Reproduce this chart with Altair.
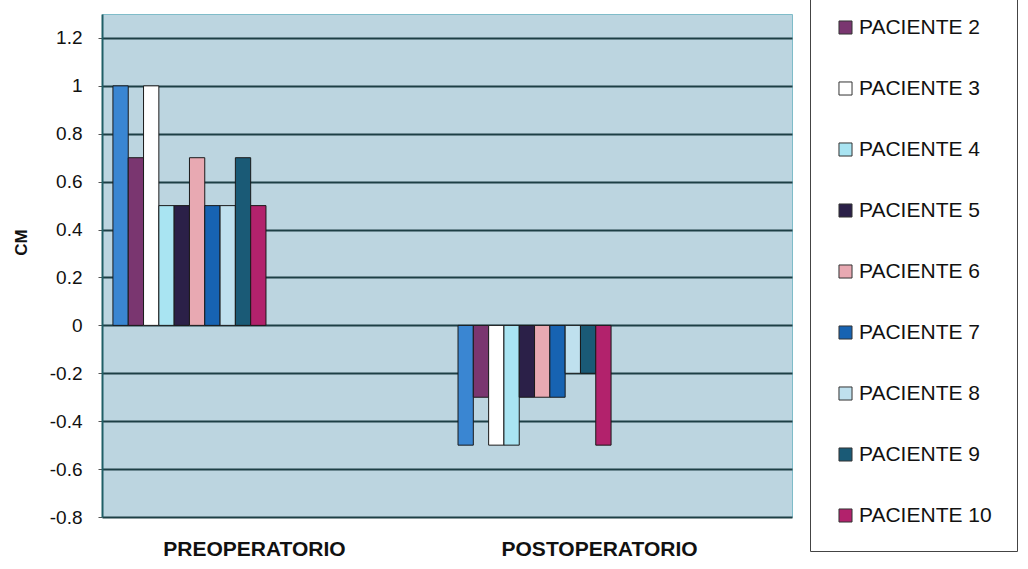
import altair as alt
import pandas as pd

etapas = ["PREOPERATORIO", "POSTOPERATORIO"]
pacientes = ["PACIENTE 1", "PACIENTE 2", "PACIENTE 3", "PACIENTE 4", "PACIENTE 5",
             "PACIENTE 6", "PACIENTE 7", "PACIENTE 8", "PACIENTE 9", "PACIENTE 10"]
preoperatorio = [1.0, 0.7, 1.0, 0.5, 0.5, 0.7, 0.5, 0.5, 0.7, 0.5]
postoperatorio = [-0.5, -0.3, -0.5, -0.5, -0.3, -0.3, -0.3, -0.2, -0.2, -0.5]
colores = ["#3a86d2", "#7a3670", "#ffffff", "#a9e4f2", "#2b2048",
           "#e8a9b2", "#1763b2", "#bfe0ee", "#1a5a76", "#b2226c"]
y_ticks = [-0.8, -0.6, -0.4, -0.2, 0, 0.2, 0.4, 0.6, 0.8, 1, 1.2]

rows = []
for etapa, vals in zip(etapas, [preoperatorio, postoperatorio]):
    for p, v in zip(pacientes, vals):
        rows.append({"etapa": etapa, "paciente": p, "valor": v})
df = pd.DataFrame(rows)

FONT = "Liberation Sans"

chart = alt.Chart(df).mark_bar(stroke="#1a1a1a", strokeWidth=1).encode(
    x=alt.X("etapa:N", sort=etapas,
            scale=alt.Scale(paddingInner=0.5565, paddingOuter=0.278, align=0.057),
            axis=alt.Axis(title=None, labelAngle=0, labelFont=FONT, labelFontSize=21,
                          labelFontWeight="bold", labelColor="#111", labelPadding=21,
                          labelOffset=65, labelLimit=400, domain=False, ticks=False,
                          grid=False)),
    xOffset=alt.XOffset("paciente:N", sort=pacientes,
                        scale=alt.Scale(domain=pacientes, paddingInner=0, paddingOuter=0)),
    y=alt.Y("valor:Q",
            scale=alt.Scale(domain=[-0.8, 1.3], nice=False, zero=False),
            axis=alt.Axis(values=y_ticks, title="CM", titleFont=FONT, titleFontSize=17,
                          titleFontWeight="bold", titleColor="#111", titleAngle=270,
                          titleX=-81, titleY=228, titleAlign="center", titleBaseline="middle",
                          labelFont=FONT, labelFontSize=19, labelColor="#111",
                          labelPadding=16, tickSize=4, tickColor="#555", tickWidth=1,
                          domainColor="#1f5f66", domainWidth=2,
                          gridColor="#1d3f45", gridWidth=1.8,
                          labelExpr="'' + datum.value")),
    color=alt.Color("paciente:N",
                    scale=alt.Scale(domain=pacientes, range=colores),
                    legend=alt.Legend(values=pacientes[1:], title=None, orient="none",
                                      legendX=708, legendY=-22, padding=25,
                                      rowPadding=39, labelFont=FONT, labelFontSize=21,
                                      labelColor="#111", labelOffset=3,
                                      symbolType="square", symbolSize=170,
                                      symbolStrokeColor="#333", symbolStrokeWidth=1,
                                      strokeColor="#444", fillColor="#ffffff")),
).properties(
    width=690, height=503,
    background="#ffffff",
    autosize=alt.AutoSizeParams(type="none"),
    padding={"left": 102, "top": 14, "right": 236, "bottom": 52},
).configure_view(
    fill="#bcd5e0", stroke="#7fbcc9", strokeWidth=1
)

chart.save("out.html", embed_options={"renderer": "svg", "actions": False})
